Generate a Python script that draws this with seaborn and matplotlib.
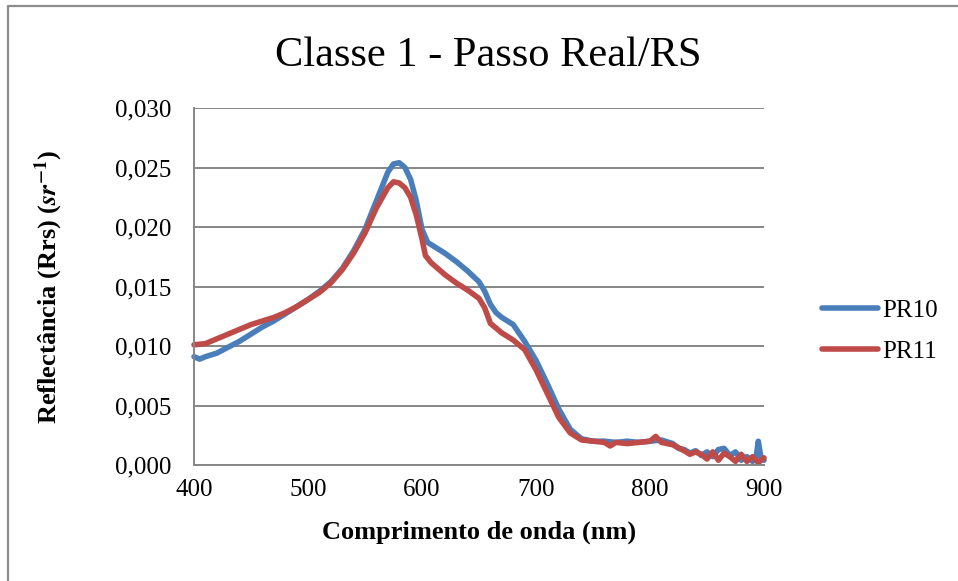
import numpy as np
import pandas as pd
import matplotlib
matplotlib.use("Agg")
import matplotlib.pyplot as plt
import seaborn as sns
from matplotlib.lines import Line2D

# ---------------- data ----------------
wl_pr10 = [400, 405, 410, 420, 430, 440, 450, 460, 470, 480, 490, 500, 510, 520, 530,
           540, 550, 560, 570, 575, 580, 585, 590, 595, 600, 605, 610, 620, 630, 640,
           650, 655, 660, 665, 670, 680, 690, 700, 710, 720, 730, 740, 750, 760, 770,
           780, 790, 800, 810, 820, 825, 830, 835, 840, 845, 850, 855, 860, 865, 870,
           875, 880, 885, 890, 893, 895, 897, 900]
rrs_pr10 = [0.0091, 0.0089, 0.0091, 0.0094, 0.0099, 0.0104, 0.0110, 0.0116, 0.0121, 0.0127,
            0.0133, 0.0139, 0.0146, 0.0154, 0.0165, 0.0180, 0.0198, 0.0222, 0.0246, 0.0253,
            0.0254, 0.0250, 0.0240, 0.0222, 0.0198, 0.0187, 0.0184, 0.0178, 0.0171, 0.0163,
            0.0154, 0.0146, 0.0135, 0.0128, 0.0124, 0.0118, 0.0104, 0.0088, 0.0068, 0.0047,
            0.0030, 0.0022, 0.0020, 0.0020, 0.0019, 0.0020, 0.0019, 0.0020, 0.0021, 0.0018,
            0.0014, 0.0013, 0.0010, 0.0012, 0.0008, 0.0011, 0.0007, 0.0013, 0.0014, 0.0008,
            0.0011, 0.0004, 0.0007, 0.0003, 0.0006, 0.0020, 0.0008, 0.0004]

wl_pr11 = [400, 410, 420, 430, 440, 450, 460, 470, 480, 490, 500, 510, 520, 530, 540,
           550, 560, 570, 575, 580, 585, 590, 595, 600, 603, 608, 620, 630, 640, 650,
           655, 660, 670, 680, 690, 700, 710, 720, 730, 740, 750, 760, 765, 770, 780,
           790, 800, 805, 810, 820, 830, 835, 840, 845, 850, 855, 860, 865, 870, 875,
           880, 885, 890, 895, 900]
rrs_pr11 = [0.0101, 0.0102, 0.0106, 0.0110, 0.0114, 0.0118, 0.0121, 0.0124, 0.0128, 0.0133,
            0.0139, 0.0145, 0.0153, 0.0164, 0.0178, 0.0195, 0.0216, 0.0233, 0.0238, 0.0237,
            0.0233, 0.0225, 0.0210, 0.0190, 0.0176, 0.0170, 0.0160, 0.0153, 0.0147, 0.0140,
            0.0132, 0.0119, 0.0111, 0.0105, 0.0097, 0.0080, 0.0060, 0.0040, 0.0027, 0.0021,
            0.0020, 0.0019, 0.0016, 0.0019, 0.0018, 0.0019, 0.0020, 0.0024, 0.0019, 0.0017,
            0.0012, 0.0009, 0.0011, 0.0009, 0.0005, 0.0011, 0.0004, 0.0010, 0.0007, 0.0003,
            0.0009, 0.0003, 0.0007, 0.0002, 0.0006]

series_names = ["PR10", "PR11"]
x_ticks = [400, 500, 600, 700, 800, 900]
y_ticks = [0.000, 0.005, 0.010, 0.015, 0.020, 0.025, 0.030]
y_tick_labels = ["0,000", "0,005", "0,010", "0,015", "0,020", "0,025", "0,030"]

title = "Classe 1 - Passo Real/RS"
x_label = "Comprimento de onda (nm)"
y_label = r"Reflectância (Rrs) ($\mathbfit{sr}^{\mathbf{-1}}$)"

# ---------------- styling ----------------
sns.set_theme(style="white")
plt.rcParams["font.family"] = ["Liberation Serif", "DejaVu Serif"]
plt.rcParams["mathtext.fontset"] = "stix"
plt.rcParams["text.color"] = "black"
plt.rcParams["axes.labelcolor"] = "black"

df = pd.concat([
    pd.DataFrame({"wl": wl_pr10, "rrs": rrs_pr10, "serie": series_names[0]}),
    pd.DataFrame({"wl": wl_pr11, "rrs": rrs_pr11, "serie": series_names[1]}),
])

palette = {"PR10": "#4A7EBB", "PR11": "#BE4B48"}
lw = 4.0

fig = plt.figure(figsize=(9.58, 5.81), dpi=100)
ax = fig.add_axes([194 / 958, 1 - 465 / 581, (764 - 194) / 958, (465 - 108) / 581])

sns.lineplot(data=df, x="wl", y="rrs", hue="serie", palette=palette, ax=ax,
             linewidth=lw, sort=True, estimator=None, legend=False)
for ln in ax.get_lines():
    ln.set_solid_capstyle("round")
    ln.set_solid_joinstyle("round")
    ln.set_clip_on(False)

ax.set_xlim(400, 900)
ax.set_ylim(0, 0.030)
ax.set_xticks(x_ticks)
ax.set_xticklabels([str(v) for v in x_ticks])
ax.set_yticks(y_ticks)
ax.set_yticklabels(y_tick_labels)
ax.tick_params(axis="both", length=0, labelsize=18, colors="black")
ax.tick_params(axis="y", pad=16)
ax.tick_params(axis="x", pad=10)

ax.yaxis.grid(True, color="#868686", linewidth=1.4)
ax.xaxis.grid(False)
ax.set_axisbelow(True)
for side in ["top", "right"]:
    ax.spines[side].set_visible(False)
for side in ["left", "bottom"]:
    ax.spines[side].set_color("#868686")
    ax.spines[side].set_linewidth(1.4)

ax.set_xlabel(x_label, fontsize=19, fontweight="bold", labelpad=14, color="black")
ax.set_ylabel(y_label, fontsize=19, fontweight="bold", labelpad=36, color="black")

fig.text(488 / 958, 1 - 56 / 581, title, fontsize=30.5, ha="center", va="center",
         color="black")

handles = [Line2D([0], [0], color=palette[n], linewidth=lw, solid_capstyle="round")
           for n in series_names]
leg = fig.legend(handles, series_names, loc="center left",
                 bbox_to_anchor=(822 / 958, 1 - 331 / 581), frameon=False,
                 fontsize=18, handlelength=2.25, handletextpad=0.15,
                 labelspacing=0.72, borderpad=0, borderaxespad=0)
for t in leg.get_texts():
    t.set_color("black")

# chart border (left and top edges visible)
fig.add_artist(Line2D([8 / 958, 8 / 958], [0, 1 - 6 / 581], color="#8c8c8c", linewidth=1.6))
fig.add_artist(Line2D([8 / 958, 1], [1 - 6 / 581, 1 - 6 / 581], color="#8c8c8c", linewidth=1.6))

fig.savefig("out.png", dpi=100)
